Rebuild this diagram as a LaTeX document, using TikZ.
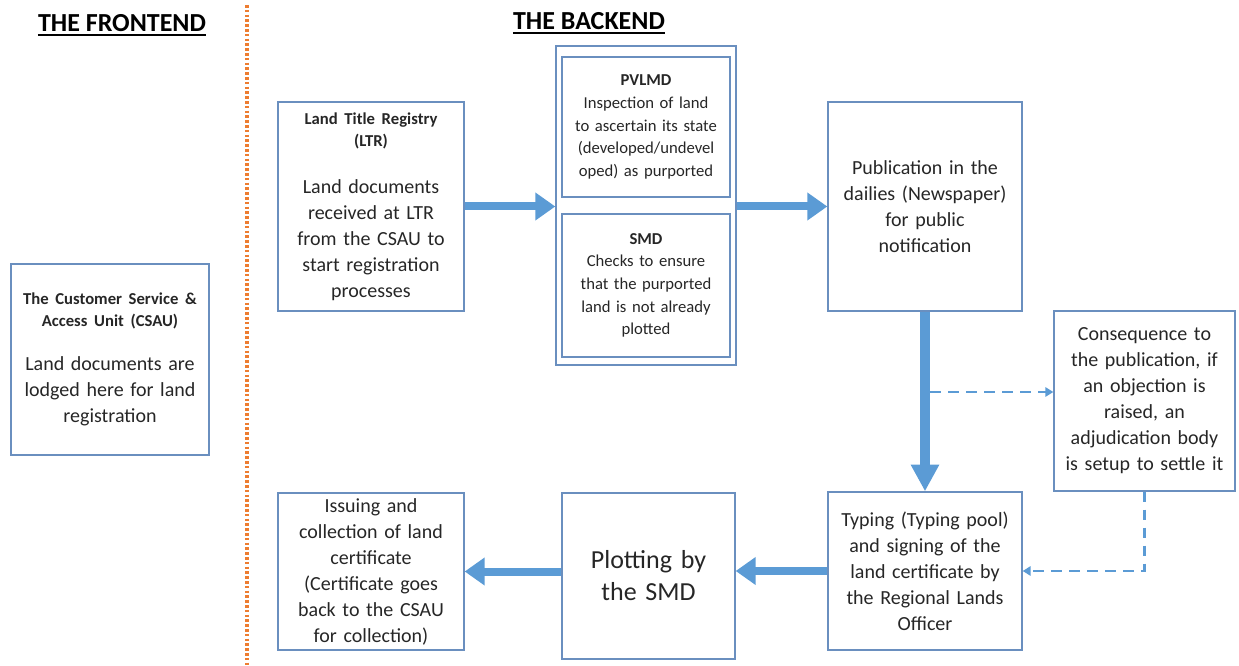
\documentclass[tikz,border=0pt]{standalone}
\usepackage{fontspec}
\setmainfont{Carlito}
\usetikzlibrary{arrows.meta}
\definecolor{boxline}{HTML}{6A8FBF}
\definecolor{flow}{HTML}{5B9BD5}
\definecolor{divider}{HTML}{ED7D31}
\definecolor{ink}{HTML}{262626}

\newcommand{\bigtxt}{\fontsize{15}{19.5}\selectfont}
\newcommand{\smalltxt}{\fontsize{12.5}{17}\selectfont}
\newcommand{\headtxt}{\fontsize{12.5}{16.5}\selectfont\bfseries}

\begin{document}
\begin{tikzpicture}[x=0.75pt,y=-0.75pt,
  box/.style={draw=boxline, line width=1pt, inner sep=0pt, align=center, text=ink, font=\bigtxt},
  sz/.style 2 args={minimum width={#1*0.75pt}, minimum height={#2*0.75pt}, text width={(#1-6)*0.75pt}},
  bigarrow/.style={draw=flow, line width=6pt, -{Triangle[length=15pt,width=20pt]}},
  tallarrow/.style={draw=flow, line width=7pt, -{Triangle[length=20pt,width=20pt]}},
  dasharrow/.style={draw=flow, line width=2pt, dash pattern=on 8pt off 5.5pt, -{Triangle[length=6pt,width=7pt]}},
  title/.style={font=\fontsize{19.5}{23}\selectfont\bfseries, text=black, inner sep=0pt},
  titlerule/.style={draw=black, line width=1.4pt}]

% page frame
\useasboundingbox (0,0) rectangle (1239,666);

% section titles, underlined, and the divider between them
\node[title] (front) at (122,23) {THE FRONTEND};
\node[title] (back) at (589,21) {THE BACKEND};
\draw[titlerule] ([yshift=-2.5pt]front.base west) -- ([yshift=-2.5pt]front.base east);
\draw[titlerule] ([yshift=-2.5pt]back.base west) -- ([yshift=-2.5pt]back.base east);
\coordinate (divtop) at (247,5);
\coordinate (divbot) at (247,666);
\draw[divider, line width=2.3pt, dash pattern=on 2pt off 1.6pt] (divtop) -- (divbot);

% frontend
\node[box, sz={198}{191}] (csau) at (110,359.5)
  {{\headtxt The Customer Service \&\\Access Unit (CSAU)\par}\vspace{14pt}
   {\bigtxt Land documents are\\lodged here for land\\registration\par}};

% backend, top row
\node[box, sz={186}{209}] (ltr) at (371,206.5)
  {{\headtxt Land Title Registry\\(LTR)\par}\vspace{16pt}
   {\bigtxt Land documents\\received at LTR\\from the CSAU to\\start registration\\processes\par}};

\node[box, sz={180}{319}] (outer) at (646,205.5) {};
\node[box, sz={168}{140}, font=\smalltxt] (pvlmd) at (646,127)
  {\textbf{PVLMD}\\Inspection of land\\to ascertain its state\\(developed/undevel\\oped) as purported};
\node[box, sz={168}{143}, font=\smalltxt] (smd) at (646,285.5)
  {\textbf{SMD}\\Checks to ensure\\that the purported\\land is not already\\plotted};

\node[box, sz={194}{209}] (pub) at (925,206.5)
  {Publication in the\\dailies (Newspaper)\\for public\\notification};

% objection branch
\node[box, sz={181}{180}] (cons) at (1144.5,401)
  {Consequence to\\the publication, if\\an objection is\\raised, an\\adjudication body\\is setup to settle it};

% backend, bottom row
\node[box, sz={194}{158}] (typ) at (925,571)
  {Typing (Typing pool)\\and signing of the\\land certificate by\\the Regional Lands\\Officer};
\node[box, sz={173}{166}, font=\fontsize{19.5}{24}\selectfont] (plot) at (648.5,576)
  {Plotting by\\the SMD};
\node[box, sz={186}{157}] (iss) at (371,571.5)
  {Issuing and\\collection of land\\certificate\\(Certificate goes\\back to the CSAU\\for collection)};

% main flow
\draw[bigarrow] (ltr.east) -- (ltr.east -| outer.west);
\draw[bigarrow] (outer.east |- pub.west) -- (pub.west);
\draw[tallarrow] (pub.south) -- (typ.north);
\draw[bigarrow] (typ.west) -- (typ.west -| plot.east);
\draw[bigarrow] (plot.west |- iss.east) -- (iss.east);

% objection loop
\coordinate (tap) at (930,392);
\draw[dasharrow] (tap) -- (tap -| cons.west);
\draw[dasharrow] (cons.south) |- (typ.east);
\end{tikzpicture}
\end{document}
